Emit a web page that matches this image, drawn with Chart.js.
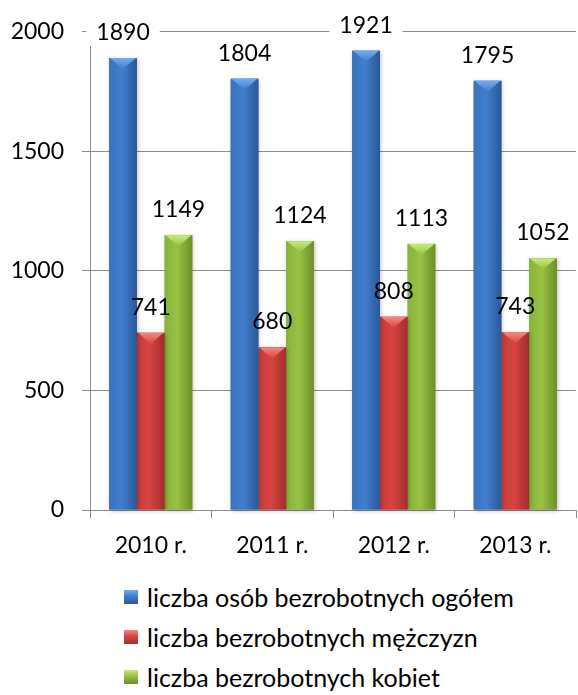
<!DOCTYPE html>
<html>
<head>
<meta charset="utf-8">
<script src="https://cdn.jsdelivr.net/npm/chart.js@4"></script>
<style>
  html, body { margin: 0; padding: 0; background: #fff; }
  body { width: 578px; height: 695px; overflow: hidden; font-family: Lato, sans-serif; }
  #wrap { position: relative; width: 578px; height: 562px; }
  #legend { margin: 15px 0 0 124px; }
  .item { display: flex; align-items: center; height: 40px; font-size: 25px; color: #000; white-space: nowrap; }
  .box { width: 14px; height: 14px; margin-right: 9px; }
</style>
</head>
<body>
<div id="wrap"><canvas id="chart"></canvas></div>
<div id="legend"></div>
<script>
const years = ["2010 r.", "2011 r.", "2012 r.", "2013 r."];
const seriesNames = [
  "liczba osób bezrobotnych ogółem",
  "liczba bezrobotnych mężczyzn",
  "liczba bezrobotnych kobiet"
];
const totalUnemployed = [1890, 1804, 1921, 1795];
const menUnemployed = [741, 680, 808, 743];
const womenUnemployed = [1149, 1124, 1113, 1052];
const yTicks = [0, 500, 1000, 1500, 2000];

// light edge, middle, dark edge, top bevel
const palettes = [
  { edge: "#3a72bc", mid: "#3f7ecf", dark: "#2b5897", top: "#72aef0" },
  { edge: "#c63b39", mid: "#d84442", dark: "#a02e2c", top: "#f08a86" },
  { edge: "#88b33a", mid: "#98c243", dark: "#6c8f29", top: "#c8ea7a" }
];

const FONT = "Lato, sans-serif";

// shade each bar like the 3D column look of the original
const barLook = {
  id: "barLook",
  afterDatasetDraw(chart, args) {
    const ctx = chart.ctx;
    const pal = palettes[args.index];
    args.meta.data.forEach(bar => {
      const { x, y, width, base } = bar.getProps(["x", "y", "width", "base"], true);
      const l = x - width / 2, r = x + width / 2;
      ctx.save();
      ctx.shadowColor = "rgba(0,0,0,0.25)";
      ctx.shadowBlur = 4;
      ctx.shadowOffsetX = 1;
      ctx.shadowOffsetY = 1;
      const g = ctx.createLinearGradient(l, 0, r, 0);
      g.addColorStop(0, pal.edge);
      g.addColorStop(0.45, pal.mid);
      g.addColorStop(1, pal.dark);
      ctx.fillStyle = g;
      ctx.fillRect(l, y, width, base - y);
      ctx.restore();

      ctx.save();
      const tg = ctx.createLinearGradient(0, y, 0, y + 11);
      tg.addColorStop(0, pal.top);
      tg.addColorStop(1, pal.mid);
      ctx.fillStyle = tg;
      ctx.beginPath();
      ctx.moveTo(l + 1, y);
      ctx.lineTo(r - 1, y);
      ctx.lineTo(x, y + 11);
      ctx.closePath();
      ctx.fill();
      ctx.restore();
    });
  }
};

function labelPositions(chart) {
  const out = [];
  chart.data.datasets.forEach((ds, i) => {
    chart.getDatasetMeta(i).data.forEach((bar, j) => {
      out.push({ x: bar.x, y: bar.y - 18, text: String(ds.data[j]) });
    });
  });
  return out;
}

const valueLabels = {
  id: "valueLabels",
  beforeDatasetsDraw(chart) {
    const ctx = chart.ctx;
    ctx.save();
    ctx.font = "23px " + FONT;
    ctx.fillStyle = "#fff";
    labelPositions(chart).forEach(p => {
      const w = ctx.measureText(p.text).width;
      ctx.fillRect(p.x - w / 2 - 10, p.y - 20, w + 20, 26);
    });
    ctx.restore();
  },
  afterDatasetsDraw(chart) {
    const ctx = chart.ctx;
    ctx.save();
    ctx.font = "23px " + FONT;
    ctx.fillStyle = "#000";
    ctx.textAlign = "center";
    ctx.textBaseline = "alphabetic";
    labelPositions(chart).forEach(p => ctx.fillText(p.text, p.x, p.y));
    ctx.restore();
  }
};

const gridColor = "#8c8c8c";

const chart = new Chart(document.getElementById("chart"), {
  type: "bar",
  data: {
    labels: years,
    datasets: [
      { label: seriesNames[0], data: totalUnemployed, backgroundColor: palettes[0].mid },
      { label: seriesNames[1], data: menUnemployed, backgroundColor: palettes[1].mid },
      { label: seriesNames[2], data: womenUnemployed, backgroundColor: palettes[2].mid }
    ]
  },
  options: {
    responsive: true,
    maintainAspectRatio: false,
    animation: false,
    layout: { padding: { top: 26, right: 2, left: 0, bottom: 0 } },
    datasets: { bar: { categoryPercentage: 0.684, barPercentage: 1.0 } },
    plugins: { legend: { display: false }, tooltip: { enabled: false } },
    scales: {
      x: {
        grid: { display: true, drawOnChartArea: false, offset: true, color: gridColor, tickLength: 8 },
        border: { color: gridColor, width: 1 },
        ticks: { color: "#000", font: { family: FONT, size: 23 }, padding: 14 },
        afterFit: s => { s.height = 52; }
      },
      y: {
        min: 0,
        max: 2000,
        afterBuildTicks: s => { s.ticks = yTicks.map(v => ({ value: v })); },
        grid: { color: gridColor, tickLength: 8 },
        border: { color: gridColor, width: 1 },
        ticks: {
          color: "#000",
          font: { family: FONT, size: 23 },
          padding: 18,
          callback: v => String(v)
        },
        afterFit: s => { s.width = 90; }
      }
    }
  },
  plugins: [barLook, valueLabels]
});

// legend stacked one item per row, left edges aligned
const legend = document.getElementById("legend");
chart.data.datasets.forEach((ds, i) => {
  const pal = palettes[i];
  const item = document.createElement("div");
  item.className = "item";
  const box = document.createElement("span");
  box.className = "box";
  box.style.background = `linear-gradient(to bottom, ${pal.top}, ${pal.mid} 45%, ${pal.dark})`;
  const txt = document.createElement("span");
  txt.textContent = ds.label;
  item.appendChild(box);
  item.appendChild(txt);
  legend.appendChild(item);
});
</script>
</body>
</html>
